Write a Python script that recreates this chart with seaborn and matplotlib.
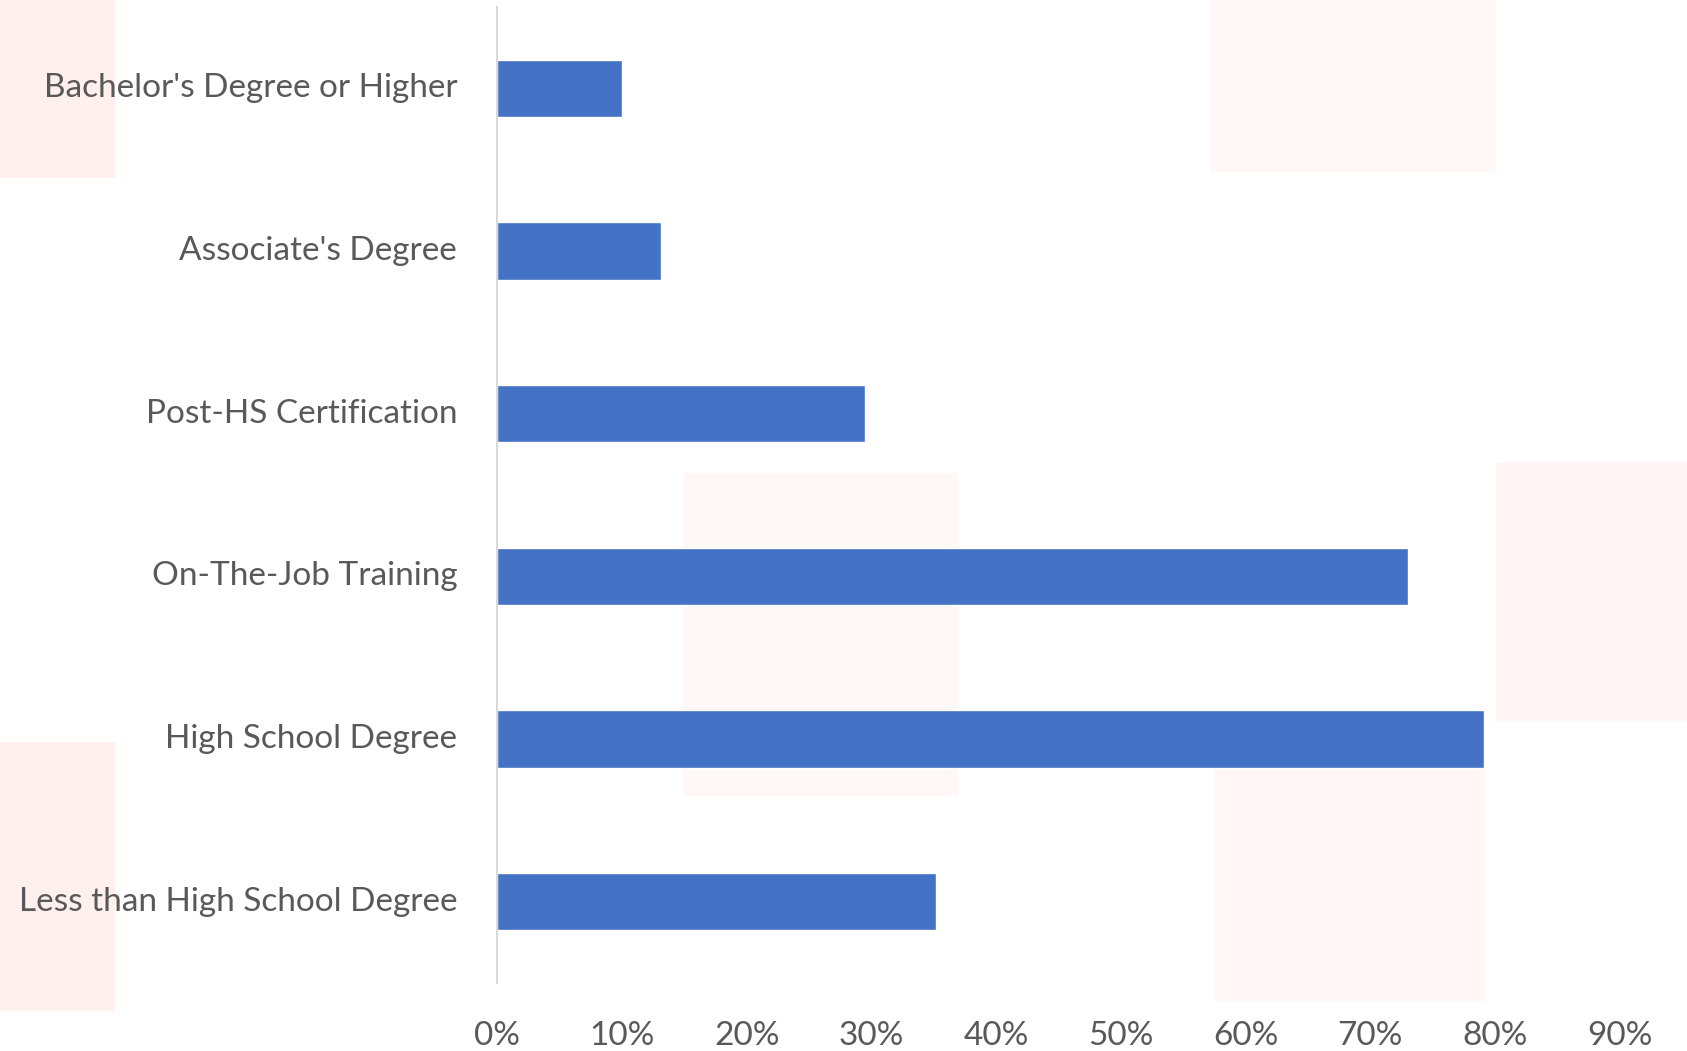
import matplotlib
matplotlib.use("Agg")
import matplotlib.pyplot as plt
import matplotlib.transforms as mtransforms
import seaborn as sns
from matplotlib.ticker import PercentFormatter
from matplotlib.patches import Rectangle

# Data (top to bottom as drawn)
categories = [
    "Bachelor's Degree or Higher",
    "Associate's Degree",
    "Post-HS Certification",
    "On-The-Job Training",
    "High School Degree",
    "Less than High School Degree",
]
shares = [0.100, 0.131, 0.295, 0.730, 0.791, 0.352]
x_ticks = [0.0, 0.1, 0.2, 0.3, 0.4, 0.5, 0.6, 0.7, 0.8, 0.9]

bar_color = "#4472C4"
text_color = "#595959"

sns.set_theme(style="white")
plt.rcParams["font.family"] = ["Lato", "DejaVu Sans"]

fig = plt.figure(figsize=(16.87, 10.51), dpi=100)

# faint pink blobs in the background of the original image
blobs = [
    ((0.0, 0.831), 0.068, 0.169, "#fff0ee"),
    ((0.0, 0.038), 0.068, 0.256, "#fff0ee"),
    ((0.7175, 0.836), 0.169, 0.164, "#fff8f7"),
    ((0.405, 0.243), 0.163, 0.307, "#fff8f7"),
    ((0.8865, 0.314), 0.1135, 0.246, "#fff5f4"),
    ((0.72, 0.048), 0.16, 0.225, "#fff6f5"),
]
for (xy, w, h, c) in blobs:
    fig.patches.append(Rectangle(xy, w, h, transform=fig.transFigure,
                                 facecolor=c, edgecolor="none", zorder=-1))

ax = fig.add_axes([0.2949, 0.0647, 0.9600 - 0.2949, 0.9933 - 0.0647])
ax.patch.set_alpha(0)

sns.barplot(x=shares, y=categories, order=categories, orient="h",
            color=bar_color, saturation=1, width=0.353, ax=ax)

ax.set_xlim(0, 0.9)
ax.set_xticks(x_ticks)
ax.xaxis.set_major_formatter(PercentFormatter(1.0, decimals=0))
ax.set_xlabel("")
ax.set_ylabel("")

for side in ["top", "right", "bottom"]:
    ax.spines[side].set_visible(False)
ax.spines["left"].set_color("#d9d9d9")
ax.spines["left"].set_linewidth(1.5)

ax.tick_params(axis="x", length=0, pad=27, labelsize=24, labelcolor=text_color)
ax.tick_params(axis="y", length=0, pad=29, labelsize=24, labelcolor=text_color)
shift = mtransforms.ScaledTranslation(0, 3 / 100, fig.dpi_scale_trans)
for lbl in ax.get_yticklabels():
    lbl.set_va("center_baseline")
    lbl.set_transform(lbl.get_transform() + shift)
ax.grid(False)

fig.savefig("out.png", dpi=100)
